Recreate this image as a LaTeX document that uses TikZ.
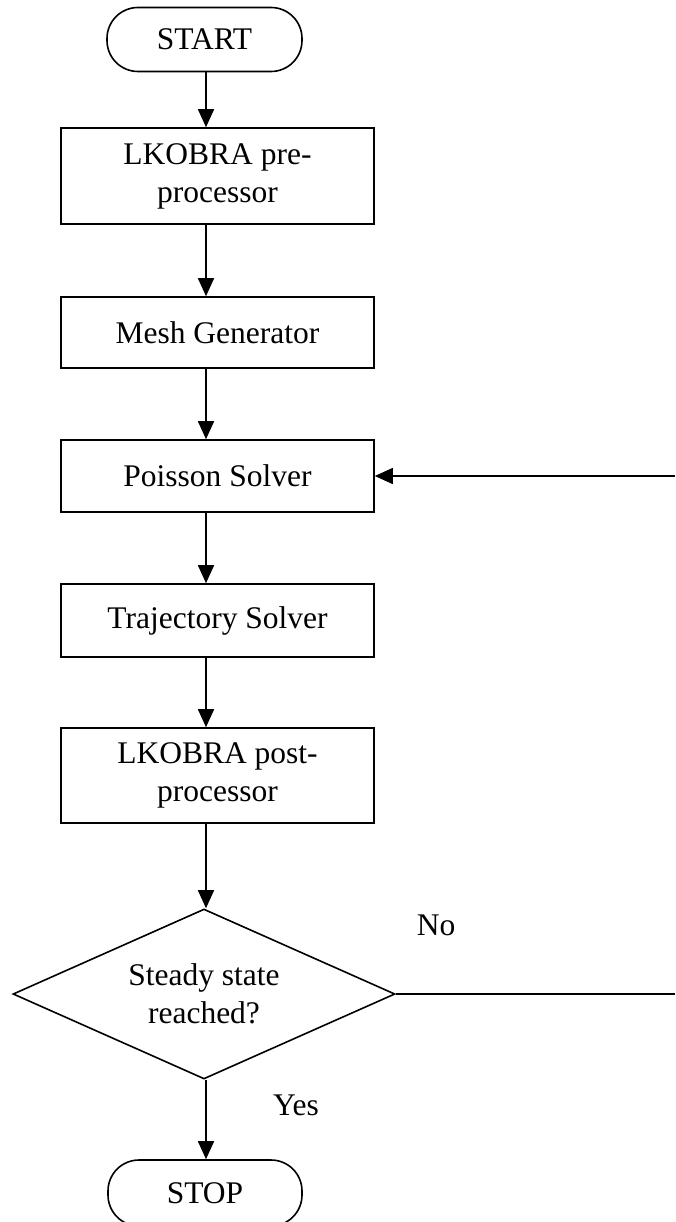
\documentclass[tikz,border=0pt]{standalone}
\usepackage{fontspec}
\setmainfont{Liberation Serif}
\usetikzlibrary{shapes.geometric,arrows.meta}
\begin{document}
\begin{tikzpicture}[x=1pt,y=-1pt,
  every node/.style={font=\fontsize{31.5}{38}\selectfont},
  term/.style={draw,line width=1.6pt,rounded corners=31pt,minimum width=195pt,minimum height=64pt,inner sep=0pt},
  proc/.style={draw,line width=1.6pt,minimum width=313pt,inner sep=0pt,align=center},
  dec/.style={draw,diamond,line width=1.6pt,aspect=2.25,minimum width=382pt,minimum height=170pt,inner sep=0pt,align=center},
  arr/.style={line width=1.6pt,-{Triangle[length=18pt,width=16pt]}},
  conn/.style={line width=1.6pt},
  lbl/.style={inner sep=0pt}]
\useasboundingbox (0,0) rectangle (675,1222);
\node[term] (start) at (204.5,39.5) {START};
\node[proc,minimum height=96pt] (pre) at (217.5,176) {LKOBRA pre-\\processor};
\node[proc,minimum height=71pt] (mesh) at (217.5,332.5) {Mesh Generator};
\node[proc,minimum height=72pt] (poisson) at (217.5,476) {Poisson Solver};
\node[proc,minimum height=73pt] (traj) at (217.5,620.5) {Trajectory Solver};
\node[proc,minimum height=95pt] (post) at (217.5,775.5) {LKOBRA post-\\processor};
\node[dec] (steady) at (204,994) {Steady state\\reached?};
\node[term,minimum width=194pt,minimum height=66pt] (stop) at (205,1193) {STOP};
\node[lbl] (no) at (436,925) {No};
\node[lbl] (yes) at (296,1105) {Yes};
\coordinate (r1) at (675,994);
\coordinate (r2) at (675,476);
\draw[arr] ([xshift=1.5pt]start.south) -- ([xshift=-11.5pt]pre.north);
\draw[arr] ([xshift=-11.5pt]pre.south) -- ([xshift=-11.5pt]mesh.north);
\draw[arr] ([xshift=-11.5pt]mesh.south) -- ([xshift=-11.5pt]poisson.north);
\draw[arr] ([xshift=-11.5pt]poisson.south) -- ([xshift=-11.5pt]traj.north);
\draw[arr] ([xshift=-11.5pt]traj.south) -- ([xshift=-11.5pt]post.north);
\draw[arr] ([xshift=-11.5pt]post.south) -- ([xshift=2pt]steady.north);
\draw[arr] ([xshift=2pt]steady.south) -- ([xshift=1pt]stop.north);
\draw[conn] (steady.east) -- (r1);
\draw[arr] (r2) -- (poisson.east);
\end{tikzpicture}
\end{document}
